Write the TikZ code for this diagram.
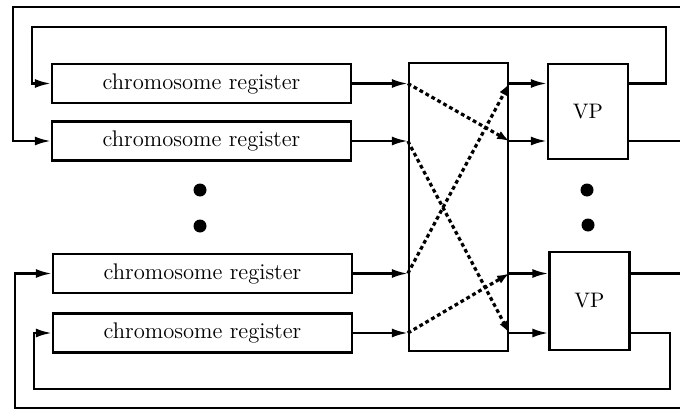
\documentclass[tikz,border=0pt]{standalone}
\usetikzlibrary{arrows.meta}
\begin{document}
\begin{tikzpicture}[x=0.5pt,y=-0.5pt,
  wire/.style={line width=1.2pt},
  arr/.style={wire,-{Latex[length=8pt,width=4.5pt]}},
  dotline/.style={line width=1.6pt,dash pattern=on 1.9pt off 1.5pt,-{Latex[length=6pt,width=4.5pt]}},
  box/.style={draw,line width=1.2pt,inner sep=0pt},
  reg/.style={box,minimum width=149.5pt,minimum height=19.5pt,font=\fontsize{11.3}{13}\selectfont},
  vp/.style={box,minimum width=40pt,font=\fontsize{10.5}{12}\selectfont},
  blob/.style={circle,fill,inner sep=0pt,minimum size=6.5pt}
]
\fill[white] (0,0) rectangle (680,412);
\useasboundingbox (0,0) rectangle (680,412);

\node[reg] (r1) at (201.5,83.5) {chromosome register};
\node[reg] (r2) at (201.5,141) {chromosome register};
\node[reg] (r3) at (202.5,273.5) {chromosome register};
\node[reg] (r4) at (202.5,333) {chromosome register};

\node[box,minimum width=49.5pt,minimum height=144pt] (sw) at (458.5,207) {};
\node[vp,minimum height=47.5pt] (vp1) at (588,111.5) {VP};
\node[vp,minimum height=49pt] (vp2) at (589.5,301) {VP};

\node[blob] (d1) at (200,190) {};
\node[blob] (d2) at (200,226) {};
\node[blob] (d3) at (587,190) {};
\node[blob] (d4) at (588,225) {};

% registers to switch
\foreach \r in {r1,r2,r3,r4}
  \draw[arr] (\r.east) -- (sw.west |- \r.east);
% switch to VPs
\draw[arr] (sw.east |- r1.east) -- (vp1.west |- r1.east);
\draw[arr] (sw.east |- r2.east) -- (vp1.west |- r2.east);
\draw[arr] (sw.east |- r3.east) -- (vp2.west |- r3.east);
\draw[arr] (sw.east |- r4.east) -- (vp2.west |- r4.east);

% crossings inside the switch
\draw[dotline] (sw.west |- r1.east) -- (sw.east |- r2.east);
\draw[dotline] (sw.west |- r2.east) -- (sw.east |- r4.east);
\draw[dotline] (sw.west |- r3.east) -- (sw.east |- r1.east);
\draw[dotline] (sw.west |- r4.east) -- (sw.east |- r3.east);

% feedback loops
\coordinate (e1) at (680,7);
\coordinate (e2) at (680,141);
\coordinate (e3) at (680,273.5);
\coordinate (e4) at (680,408);

\draw[arr] (vp1.east |- r1.east) -- (666,83.5) -- (666,27) -- (32,27) |- (r1.west);
\draw[wire] (vp1.east |- r2.east) -- (e2);
\draw[arr] (e1) -- (13,7) |- (r2.west);

\draw[wire] (vp2.east |- r3.east) -- (e3);
\draw[arr] (e4) -- (15,408) |- (r3.west);
\draw[arr] (vp2.east |- r4.east) -- (670,333) -- (670,389) -- (34,389) |- (r4.west);
\end{tikzpicture}
\end{document}
